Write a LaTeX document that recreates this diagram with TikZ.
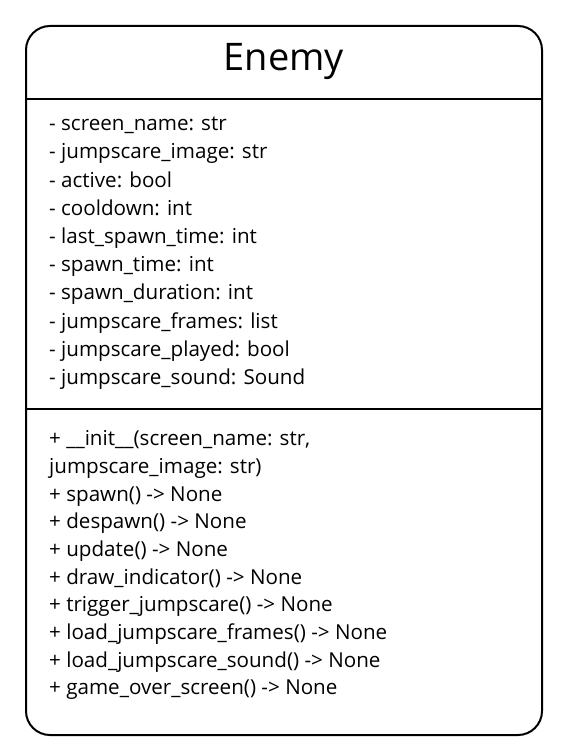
\documentclass[tikz,border=0pt]{standalone}
\usepackage{fontspec}
\setmainfont{Open Sans}
\begin{document}
\begin{tikzpicture}[x=1pt,y=-1pt,
  frame/.style={draw=black, line width=2pt, rounded corners=24pt},
  divider/.style={draw=black, line width=2.6pt},
  member/.style={anchor=mid west, inner sep=0pt, font=\fontsize{20.6}{24}\selectfont},
  classname/.style={inner sep=0pt, font=\fontsize{38}{44}\selectfont}]
  \useasboundingbox (0,0) rectangle (565,751);
  % class frame
  \draw[frame] (26,26) rectangle (542,735);
  \coordinate (d1l) at (26,99);  \coordinate (d1r) at (542,99);
  \coordinate (d2l) at (26,409); \coordinate (d2r) at (542,409);
  \draw[divider] (d1l) -- (d1r);
  \draw[divider] (d2l) -- (d2r);
  % class name
  \node[classname] (title) at (284,62) {Enemy};
  % attributes
  \node[member] (a1)  at (49,128.0) {- screen\_name: str};
  \node[member] (a2)  at (49,156.2) {- jumpscare\_image: str};
  \node[member] (a3)  at (49,184.4) {- active: bool};
  \node[member] (a4)  at (49,212.6) {- cooldown: int};
  \node[member] (a5)  at (49,240.8) {- last\_spawn\_time: int};
  \node[member] (a6)  at (49,269.0) {- spawn\_time: int};
  \node[member] (a7)  at (49,297.2) {- spawn\_duration: int};
  \node[member] (a8)  at (49,325.4) {- jumpscare\_frames: list};
  \node[member] (a9)  at (49,353.6) {- jumpscare\_played: bool};
  \node[member] (a10) at (49,381.8) {- jumpscare\_sound: Sound};
  % methods
  \node[member] (m1)  at (49,443.0) {+ \_\_init\_\_(screen\_name: str,};
  \node[member] (m1b) at (49,470.7) {jumpscare\_image: str)};
  \node[member] (m2)  at (49,498.4) {+ spawn() -> None};
  \node[member] (m3)  at (49,526.1) {+ despawn() -> None};
  \node[member] (m4)  at (49,553.8) {+ update() -> None};
  \node[member] (m5)  at (49,581.5) {+ draw\_indicator() -> None};
  \node[member] (m6)  at (49,609.2) {+ trigger\_jumpscare() -> None};
  \node[member] (m7)  at (49,636.9) {+ load\_jumpscare\_frames() -> None};
  \node[member] (m8)  at (49,664.6) {+ load\_jumpscare\_sound() -> None};
  \node[member] (m9)  at (49,692.3) {+ game\_over\_screen() -> None};
\end{tikzpicture}
\end{document}
